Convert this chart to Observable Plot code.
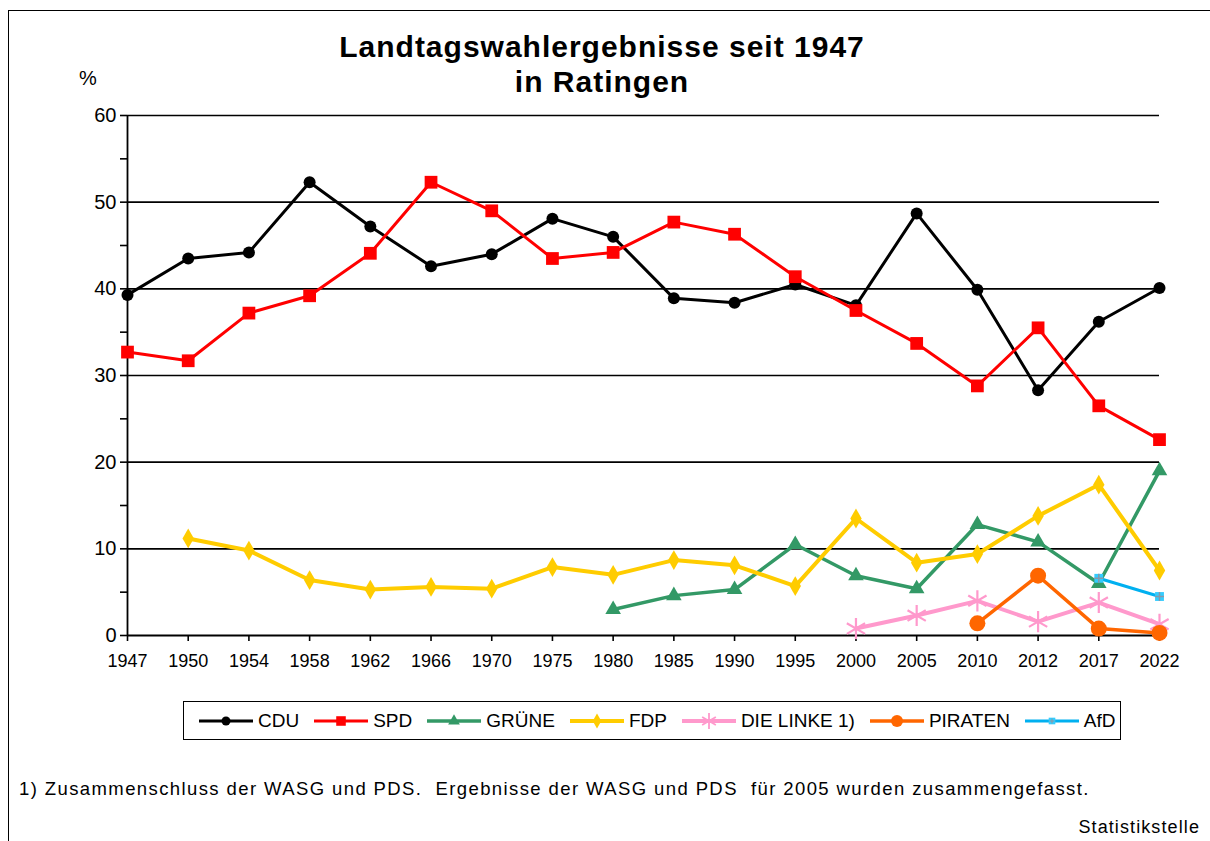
<!DOCTYPE html>
<html><head><meta charset="utf-8">
<script src="https://cdn.jsdelivr.net/npm/d3@7"></script>
<script src="https://cdn.jsdelivr.net/npm/@observablehq/plot@0.6"></script>
<style>
body{margin:0;overflow:hidden;background:#fff;font-family:"Liberation Sans",Arial,sans-serif;color:#000;}
#wrap{position:relative;width:1210px;height:841px;overflow:hidden;background:#fff;}
#frame{position:absolute;left:8px;top:10px;width:1400px;height:1000px;border:1.5px solid #000;}
#chart{position:absolute;left:0;top:0;}
#title{position:absolute;left:0;width:1204px;top:29px;text-align:center;font-weight:bold;font-size:30px;letter-spacing:1px;line-height:35px;}
#unit{position:absolute;left:79px;top:67px;font-size:20px;}
#legend{position:absolute;left:183px;top:701px;width:938px;height:39px;border:1.5px solid #000;display:flex;align-items:center;padding-left:15px;box-sizing:border-box;gap:15px;font-size:19px;}
.item{display:flex;align-items:center;gap:5px;}
#note{position:absolute;left:19px;top:778px;font-size:18.5px;white-space:pre;letter-spacing:1.4px;}
#source{position:absolute;right:10px;top:817px;font-size:18px;letter-spacing:1.1px;}
</style></head>
<body>
<div id="wrap">
  <div id="frame"></div>
  <div id="chart"></div>
  <div id="title">Landtagswahlergebnisse seit 1947<br>in Ratingen</div>
  <div id="unit">%</div>
  <div id="legend"></div>
  <div id="note">1) Zusammenschluss der WASG und PDS.  Ergebnisse der WASG und PDS  für 2005 wurden zusammengefasst.</div>
  <div id="source">Statistikstelle</div>
</div>
<script>
const years = ["1947","1950","1954","1958","1962","1966","1970","1975","1980","1985","1990","1995","2000","2005","2010","2012","2017","2022"];
const cdu     = [39.3,43.5,44.2,52.3,47.2,42.6,44.0,48.1,46.0,38.9,38.4,40.5,38.1,48.7,39.9,28.3,36.2,40.1];
const spd     = [32.7,31.7,37.2,39.2,44.1,52.3,49.0,43.5,44.2,47.7,46.3,41.4,37.5,33.7,28.8,35.5,26.5,22.6];
const gruene  = [null,null,null,null,null,null,null,null,3.0,4.6,5.3,10.5,6.9,5.4,12.8,10.8,6.0,19.0];
const fdp     = [null,11.2,9.8,6.4,5.3,5.6,5.4,7.9,7.0,8.7,8.1,5.7,13.5,8.4,9.4,13.8,17.4,7.5];
const linke   = [null,null,null,null,null,null,null,null,null,null,null,null,0.8,2.3,4.0,1.6,3.8,1.3];
const piraten = [null,null,null,null,null,null,null,null,null,null,null,null,null,null,1.4,6.9,0.8,0.3];
const afd     = [null,null,null,null,null,null,null,null,null,null,null,null,null,null,null,null,6.6,4.5];
const yTicks = [0,5,10,15,20,25,30,35,40,45,50,55,60];
const gridValues = [10,20,30,40,50,60];

const series = [
  {name:"CDU", values:cdu, color:"#000000", width:3, symbol:"circle", r:6, fill:"#000000"},
  {name:"SPD", values:spd, color:"#FF0000", width:3, symbol:"square", r:7.2, fill:"#FF0000"},
  {name:"GRÜNE", values:gruene, color:"#339966", width:3.5, symbol:"triangle", r:5.8, fill:"#339966"},
  {name:"FDP", values:fdp, color:"#FFCC00", width:4, symbol:"diamond", r:6, fill:"#FFCC00"},
  {name:"DIE LINKE 1)", values:linke, color:"#FF99CC", width:4, symbol:"asterisk", r:10, fill:"none", stroke:"#FF99CC"},
  {name:"PIRATEN", values:piraten, color:"#FF6600", width:3.5, symbol:"circle", r:8, fill:"#FF6600"},
  {name:"AfD", values:afd, color:"#00B0F0", width:3, symbol:"square", r:5, fill:"#33CCFF", plus:true}
];

const marks = [
  Plot.gridY(gridValues, {stroke:"#000", strokeOpacity:1, strokeWidth:1.6}),
  Plot.axisY(yTicks, {tickSize:7, tickPadding:4, fontSize:20, tickFormat:d => d % 10 === 0 ? String(d) : "", label:null, strokeWidth:1.6}),
  Plot.axisX({tickSize:6, tickPadding:13, fontSize:18, label:null, strokeWidth:1.6}),
  Plot.ruleX([years[0]], {y1:yTicks[0], y2:yTicks[yTicks.length-1], stroke:"#000", strokeWidth:1.8}),
  Plot.ruleY([0], {stroke:"#000", strokeWidth:1.8})
];
for (const s of series) {
  const rows = years.map((yr,i) => ({year:yr, value:s.values[i]}));
  marks.push(Plot.lineY(rows, {x:"year", y:"value", stroke:s.color, strokeWidth:s.width}));
}
for (const s of series) {
  const rows = years.map((yr,i) => ({year:yr, value:s.values[i]})).filter(d => d.value != null);
  if (s.symbol === "asterisk") {
    marks.push(Plot.dot(rows, {x:"year", y:"value", symbol:"asterisk", r:s.r, stroke:s.stroke, strokeWidth:2.2, fill:"none"}));
  } else {
    marks.push(Plot.dot(rows, {x:"year", y:"value", symbol:s.symbol, r:s.r, fill:s.fill, stroke:"none"}));
  }
  if (s.plus) marks.push(Plot.dot(rows, {x:"year", y:"value", symbol:"plus", r:3, stroke:"#8899AA", strokeWidth:1.5, fill:"none"}));
}

const chart = Plot.plot({
  width:1210, height:841,
  marginLeft:127, marginRight:51, marginTop:115, marginBottom:206,
  style:{background:"transparent", fontFamily:"'Liberation Sans', Arial, sans-serif", color:"#000"},
  x:{type:"point", domain:years, padding:0, inset:0, round:false},
  y:{domain:[0,60], inset:0},
  marks
});
document.getElementById("chart").appendChild(chart);

// legend
const legend = d3.select("#legend");
const symMap = {circle:d3.symbolCircle, square:d3.symbolSquare, triangle:d3.symbolTriangle, diamond:d3.symbolDiamond, asterisk:d3.symbolAsterisk};
for (const s of series) {
  const it = legend.append("div").attr("class","item");
  const sv = it.append("svg").attr("width",54).attr("height",20);
  sv.append("line").attr("x1",0).attr("x2",54).attr("y1",10).attr("y2",10).attr("stroke",s.color).attr("stroke-width",s.width);
  const size = Math.PI * Math.pow(s.r*0.75, 2);
  const p = sv.append("path").attr("transform","translate(27,10)").attr("d", d3.symbol(symMap[s.symbol], size)());
  if (s.symbol === "asterisk") p.attr("fill","none").attr("stroke",s.stroke).attr("stroke-width",1.8);
  else p.attr("fill",s.fill);
  if (s.plus) sv.append("path").attr("transform","translate(27,10)").attr("d", d3.symbol(d3.symbolPlus, 10)()).attr("fill","none").attr("stroke","#8899AA").attr("stroke-width",1.2);
  it.append("span").text(s.name);
}
</script>
</body></html>
